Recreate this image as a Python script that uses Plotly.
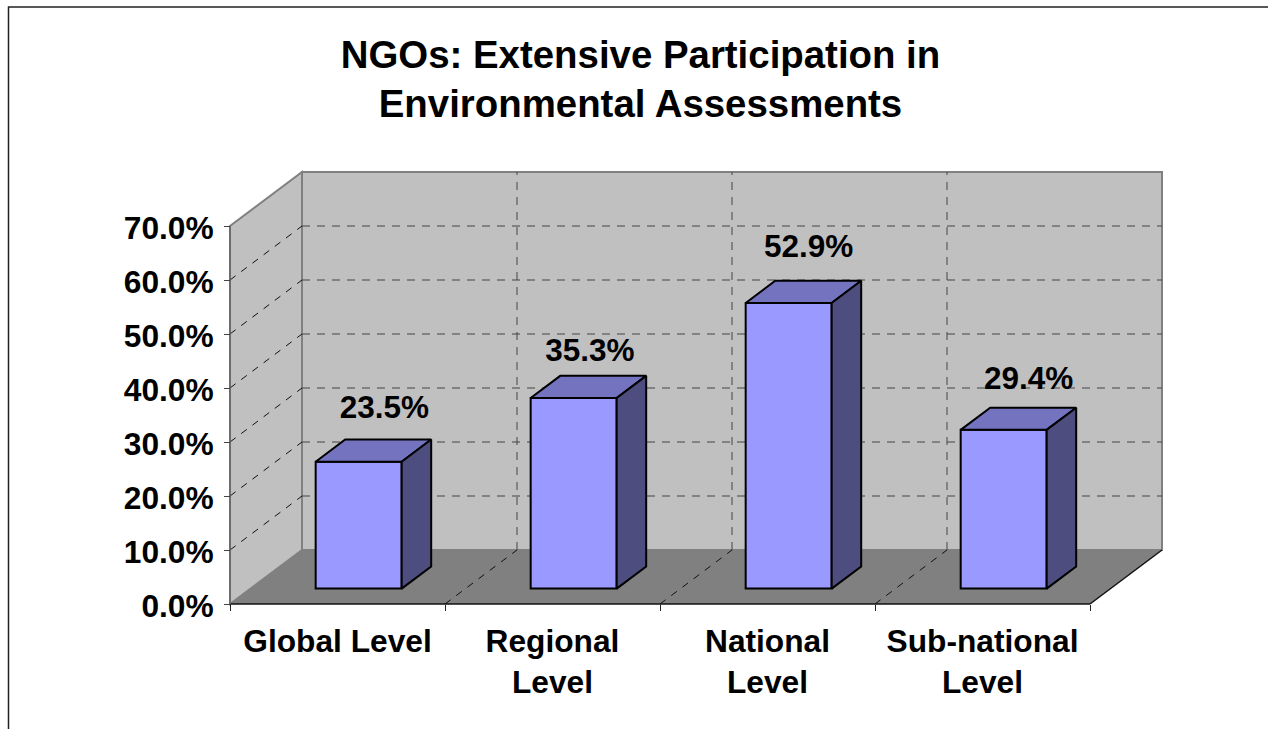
import plotly.graph_objects as go

# --- data ---
categories = ["Global Level", "Regional<br>Level", "National<br>Level", "Sub-national<br>Level"]
values = [23.5, 35.3, 52.9, 29.4]
value_labels = ["23.5%", "35.3%", "52.9%", "29.4%"]
y_ticks = [0, 10, 20, 30, 40, 50, 60, 70]
y_tick_labels = ["0.0%", "10.0%", "20.0%", "30.0%", "40.0%", "50.0%", "60.0%", "70.0%"]
title_text = "NGOs: Extensive Participation in<br>Environmental Assessments"

# --- oblique projection: depth 0 = front plane, depth 1 = back wall ---
DEPTH_X = 72 / 215   # category units
DEPTH_Y = 10         # value units
BAR_W = 0.40
BAR_C = 0.503
BAR_D0, BAR_D1 = 0.285, 0.695
LABEL_SHIFT_X = [0.12, 0.075, 0.093, 0.116]   # category units from bar centre
LABEL_SHIFT_Y = [9.5, 8.4, 10.0, 9.0]         # value units above the front top


def proj(x, v, d):
    return x + d * DEPTH_X, v + d * DEPTH_Y


n = len(categories)
vmax = y_ticks[-1]
FONT = "Liberation Sans, Arial, sans-serif"
W, H = 1268, 729
L, R, T, B = 220, 96, 162, 115
PADX, PADY = 10 / 215, 10 / 5.4
x_range = [-PADX, n + DEPTH_X + PADX]
y_range = [-PADY, vmax + DEPTH_Y + PADY]

WALL, FLOOR, EDGE = "#C0C0C0", "#808080", "#808080"
FRONT, TOP, SIDE = "#9999FF", "#7373BF", "#4D4D80"


def poly(pts):
    return "M " + " L ".join(f"{x},{y}" for x, y in pts) + " Z"


def seg(a, b, color, width, dash="solid"):
    return dict(type="line", xref="x", yref="y", layer="below", x0=a[0], y0=a[1], x1=b[0], y1=b[1],
                line=dict(color=color, width=width, dash=dash))


shapes = [
    # back wall, side wall, floor
    dict(type="path", xref="x", yref="y", layer="below", fillcolor=WALL, line=dict(color=EDGE, width=2),
         path=poly([proj(0, 0, 1), proj(n, 0, 1), proj(n, vmax, 1), proj(0, vmax, 1)])),
    dict(type="path", xref="x", yref="y", layer="below", fillcolor=WALL, line=dict(color=EDGE, width=2),
         path=poly([proj(0, 0, 0), proj(0, 0, 1), proj(0, vmax, 1), proj(0, vmax, 0)])),
    dict(type="path", xref="x", yref="y", layer="below", fillcolor=FLOOR, line=dict(width=0),
         path=poly([proj(0, 0, 0), proj(n, 0, 0), proj(n, 0, 1), proj(0, 0, 1)])),
]
for v in y_ticks[1:-1]:
    shapes.append(seg(proj(0, v, 1), proj(n, v, 1), "#444444", 1, "8px,7px"))
    shapes.append(seg(proj(0, v, 0), proj(0, v, 1), "#111111", 1, "7px,7px"))
for i in range(1, n):
    shapes.append(seg(proj(i, 0, 1), proj(i, vmax, 1), "#444444", 1, "8px,7px"))
    shapes.append(seg(proj(i, 0, 0), proj(i, 0, 1), "#111111", 1, "7px,7px"))
shapes += [
    seg(proj(0, 0, 0), proj(n, 0, 0), "#111111", 1.5),
    seg(proj(n, 0, 0), proj(n, 0, 1), "#111111", 1.5),
    seg(proj(0, 0, 0), proj(0, vmax, 0), "#666666", 1.5),
]
# page border: top and left edges only, as in the reference
pw, ph = W - L - R, H - T - B
def px(x): return (x - L) / pw
def py(y): return (H - B - y) / ph
shapes.append(dict(type="path", xref="paper", yref="paper", layer="above",
                   line=dict(color="#222222", width=1.5),
                   path=f"M {px(8.5)},{py(735)} L {px(8.5)},{py(7)} L {px(1275)},{py(7)}"))

fig = go.Figure()
cx = [i + BAR_C + BAR_D0 * DEPTH_X for i in range(n)]
fig.add_bar(x=cx, y=values, base=[BAR_D0 * DEPTH_Y] * n, width=BAR_W,
            marker=dict(color=FRONT, line=dict(color="black", width=2)), hoverinfo="skip")

for i, v in enumerate(values):
    a, b = i + BAR_C - BAR_W / 2, i + BAR_C + BAR_W / 2
    top = [proj(a, v, BAR_D0), proj(b, v, BAR_D0), proj(b, v, BAR_D1), proj(a, v, BAR_D1), proj(a, v, BAR_D0)]
    side = [proj(b, 0, BAR_D0), proj(b, 0, BAR_D1), proj(b, v, BAR_D1), proj(b, v, BAR_D0), proj(b, 0, BAR_D0)]
    for pts, col in ((top, TOP), (side, SIDE)):
        fig.add_scatter(x=[p[0] for p in pts], y=[p[1] for p in pts], mode="lines", fill="toself",
                        fillcolor=col, line=dict(color="black", width=2), hoverinfo="skip")

fig.add_scatter(x=[cx[i] + LABEL_SHIFT_X[i] for i in range(n)],
                y=[values[i] + BAR_D0 * DEPTH_Y + LABEL_SHIFT_Y[i] for i in range(n)],
                mode="text", text=[f"<b>{t}</b>" for t in value_labels],
                textposition="middle center", textfont=dict(family=FONT, size=31.5, color="black"),
                hoverinfo="skip", cliponaxis=False)

fig.update_layout(
    width=W, height=H, autosize=False, showlegend=False, template=None,
    paper_bgcolor="white", plot_bgcolor="white",
    margin=dict(l=L, r=R, t=T, b=B, pad=0),
    font=dict(family=FONT, color="black"),
    shapes=shapes,
    title=dict(text=f"<b>{title_text}</b>", xref="container", yref="container",
               x=640.5 / W, xanchor="center", y=1 - 67.5 / H, yanchor="middle",
               font=dict(family=FONT, size=38.4, color="black")),
    xaxis=dict(range=x_range, domain=[0, 1], anchor="free", position=(PADY * 5.4) / ph,
               showgrid=False, zeroline=False, showline=False,
               tickmode="array", tickvals=[i + 0.5 for i in range(n)],
               ticktext=[f"<b>{c.replace('<br>', '</b><br><b>')}</b>" for c in categories],
               ticks="", tickangle=0, tickfont=dict(family=FONT, size=31.7, color="black"),
               ticklabelstandoff=15,
               minor=dict(tickmode="array", tickvals=list(range(n + 1)), ticks="outside",
                          ticklen=6, tickcolor="#222222", tickwidth=1, showgrid=False)),
    yaxis=dict(range=y_range, domain=[0, 1], anchor="free", position=(PADX * 215) / pw,
               showgrid=False, zeroline=False, showline=False,
               tickmode="array", tickvals=y_ticks,
               ticktext=[f"<b>{t}</b>" for t in y_tick_labels],
               ticks="outside", ticklen=6, tickcolor="#444444", tickwidth=1,
               tickfont=dict(family=FONT, size=31.7, color="black"),
               ticklabelstandoff=4, ticklabelshift=2),
)

fig.write_html("out.html", config=dict(displayModeBar=False),
               post_script="document.body.style.margin='0';")
